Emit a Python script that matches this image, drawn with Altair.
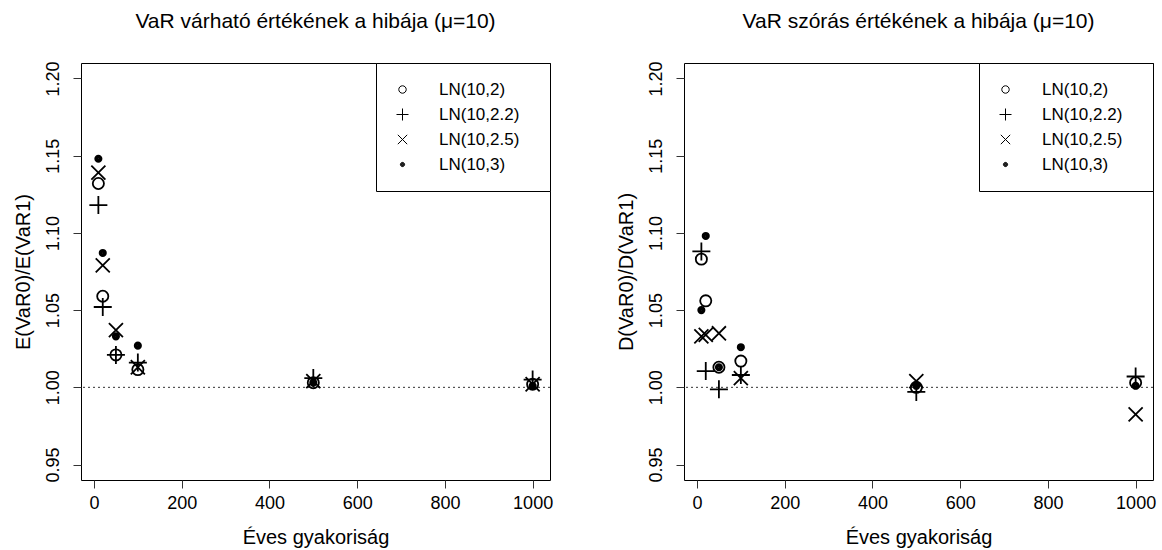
import altair as alt
import pandas as pd

# Annual loss frequency (x axis) shared by both panels
freq = [10, 20, 50, 100, 500, 1000]
series = ["LN(10,2)", "LN(10,2.2)", "LN(10,2.5)", "LN(10,3)"]

# E(VaR0)/E(VaR1) per severity distribution
mean_ln2 = [1.132, 1.059, 1.021, 1.0115, 1.003, 1.002]
mean_ln22 = [1.118, 1.052, 1.021, 1.016, 1.006, 1.005]
mean_ln25 = [1.139, 1.079, 1.037, 1.013, 1.004, 1.002]
mean_ln3 = [1.148, 1.087, 1.033, 1.027, 1.003, 1.001]

# D(VaR0)/D(VaR1) per severity distribution
sd_ln2 = [1.083, 1.056, 1.013, 1.017, 1.000, 1.003]
sd_ln22 = [1.088, 1.0105, 0.9987, 1.008, 0.997, 1.007]
sd_ln25 = [1.033, 1.034, 1.035, 1.006, 1.004, 0.9825]
sd_ln3 = [1.050, 1.098, 1.013, 1.026, 1.001, 1.001]

x_ticks = [0, 200, 400, 600, 800, 1000]
y_ticks = [0.95, 1.00, 1.05, 1.10, 1.15, 1.20]

FONT = "Liberation Sans"


def long_table(columns):
    rows = []
    for name, values in zip(series, columns):
        for f, v in zip(freq, values):
            rows.append({"freq": f, "ratio": v, "series": name})
    return pd.DataFrame(rows)


def ring(r):
    return f"M{r},0A{r},{r},0,1,1,{-r},0A{r},{r},0,1,1,{r},0Z"


# R-style plotting symbols: open circle, plus, cross, solid dot
open_circle = ring(0.62)
plus = "M-1,0L1,0M0,-1L0,1"
cross = "M-0.78,-0.78L0.78,0.78M-0.78,0.78L0.78,-0.78"
solid_dot = "".join(ring(r) for r in (0.08, 0.17, 0.26, 0.35))


def panel(df, title, ytitle):
    x = alt.X(
        "freq:Q",
        scale=alt.Scale(domain=[-29.6, 1039.6], nice=False, zero=False),
        axis=alt.Axis(values=x_ticks, title="Éves gyakoriság", format="d",
                      labelPadding=6, titlePadding=15),
    )
    y = alt.Y(
        "ratio:Q",
        scale=alt.Scale(domain=[0.94, 1.21], nice=False, zero=False),
        axis=alt.Axis(values=y_ticks, format=".2f", title=ytitle,
                      labelAngle=270, labelAlign="center", labelBaseline="bottom",
                      labelPadding=11, titlePadding=11),
    )
    points = alt.Chart(df).mark_point(
        filled=False, color="black", opacity=1, size=324, strokeWidth=1.8
    ).encode(
        x=x,
        y=y,
        shape=alt.Shape(
            "series:N",
            scale=alt.Scale(domain=series, range=[open_circle, plus, cross, solid_dot]),
            # a blank braille cell keeps some room right of the labels
            legend=alt.Legend(title=None, orient="top-right",
                              labelExpr="datum.label + '\u2800'"),
        ),
    )
    baseline = alt.Chart(pd.DataFrame({"ratio": [1.0]})).mark_rule(
        strokeDash=[2, 3], color="#333", strokeWidth=1
    ).encode(y=y)
    return alt.layer(baseline, points).properties(
        width=469,
        height=417,
        title=alt.TitleParams(title, font=FONT, fontSize=21, fontWeight="normal",
                              anchor="middle", offset=29, color="black"),
    )


left = panel(long_table([mean_ln2, mean_ln22, mean_ln25, mean_ln3]),
             "VaR várható értékének a hibája (μ=10)", "E(VaR0)/E(VaR1)")
right = panel(long_table([sd_ln2, sd_ln22, sd_ln25, sd_ln3]),
              "VaR szórás értékének a hibája (μ=10)", "D(VaR0)/D(VaR1)")

chart = (
    alt.hconcat(left, right, spacing=61)
    .resolve_scale(shape="independent")
    .resolve_legend(shape="independent")
    .properties(padding={"left": 12, "top": 10, "right": 5, "bottom": 5}, background="white")
    .configure_view(stroke="black", strokeWidth=1)
    .configure_axis(
        domain=False, grid=False, tickColor="#333", tickSize=8, tickWidth=1,
        labelFont=FONT, labelFontSize=18, labelColor="black",
        titleFont=FONT, titleFontSize=20, titleFontWeight="normal", titleColor="black",
    )
    .configure_legend(
        strokeColor="black", fillColor="white", padding=18, offset=0, cornerRadius=0,
        labelFont=FONT, labelFontSize=17, labelColor="black", labelOffset=28,
        symbolSize=144, symbolStrokeWidth=1, symbolStrokeColor="black",
        rowPadding=7,
    )
)

chart.save("out.html", embed_options={"renderer": "svg", "actions": False})
